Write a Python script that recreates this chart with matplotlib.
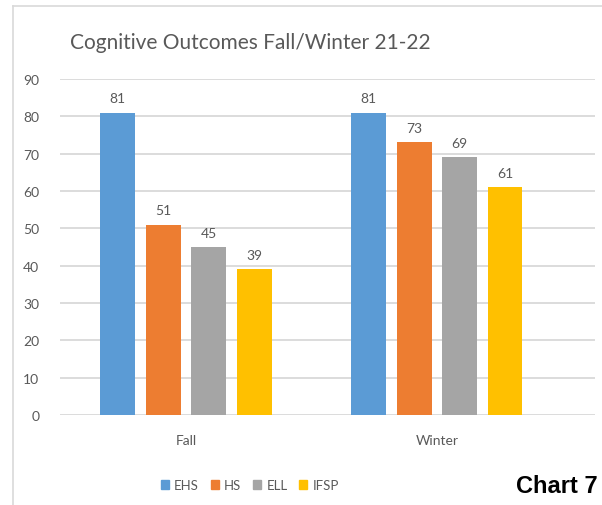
import matplotlib.pyplot as plt
import numpy as np
from matplotlib.lines import Line2D

# Dữ liệu biểu đồ
categories = ['Fall', 'Winter']
series_names = ['EHS', 'HS', 'ELL', 'IFSP']
ehs = [81, 81]
hs = [51, 73]
ell = [45, 69]
ifsp = [39, 61]
yticks = [0, 10, 20, 30, 40, 50, 60, 70, 80, 90]

colors = ['#5B9BD5', '#ED7D31', '#A5A5A5', '#FFC000']
text_grey = '#595959'
grid_grey = '#D9D9D9'

W, H = 602, 506
fig = plt.figure(figsize=(W / 100, H / 100), dpi=100)
plt.rcParams['font.family'] = ['Lato', 'DejaVu Sans']

# Vị trí vùng vẽ (pixel -> toạ độ figure)
left, right, top, bottom = 60, 595, 80, 416
ax = fig.add_axes([left / W, 1 - bottom / H, (right - left) / W, (bottom - top) / H])

x = np.arange(len(categories))
step = 0.181
width = 0.139
for i, (name, vals) in enumerate(zip(series_names, [ehs, hs, ell, ifsp])):
    bars = ax.bar(x + (i - 1.5) * step, vals, width, color=colors[i], label=name, zorder=3)
    ax.bar_label(bars, padding=6, fontsize=10, color=text_grey)

ax.set_xlim(-0.502, 1.63)
ax.set_ylim(0, 90)
ax.set_yticks(yticks)
ax.set_xticks(x)
ax.set_xticklabels(categories)
ax.tick_params(axis='both', length=0, colors=text_grey, labelsize=10)
ax.tick_params(axis='y', pad=15)
ax.tick_params(axis='x', pad=14)
ax.yaxis.grid(True, color=grid_grey, linewidth=1.3, zorder=0)
for s in ax.spines.values():
    s.set_visible(False)

# Tiêu đề
fig.text(250 / W, 1 - 43 / H, 'Cognitive Outcomes Fall/Winter 21-22',
         ha='center', va='center', fontsize=15, color=text_grey)

# Chú giải
handles = [plt.Rectangle((0, 0), 1, 1, color=c) for c in colors]
fig.legend(handles, series_names, loc='center', bbox_to_anchor=(250 / W, 1 - 486 / H),
           ncol=4, frameon=False, fontsize=9.5, handlelength=0.6, handleheight=0.6,
           handletextpad=0.4, columnspacing=0.9, labelcolor=text_grey)

# Khung viền biểu đồ
fig.add_artist(Line2D([13 / W, 13 / W], [0, 1 - 7 / H], color=grid_grey, linewidth=1.2))
fig.add_artist(Line2D([13 / W, 1], [1 - 7 / H, 1 - 7 / H], color=grid_grey, linewidth=1.2))

fig.text(598 / W, 1 - 487 / H, 'Chart 7', ha='right', va='center', fontsize=17,
         fontweight='bold', family=['Liberation Sans', 'DejaVu Sans'], color='black')

fig.savefig('out.png', dpi=100)
